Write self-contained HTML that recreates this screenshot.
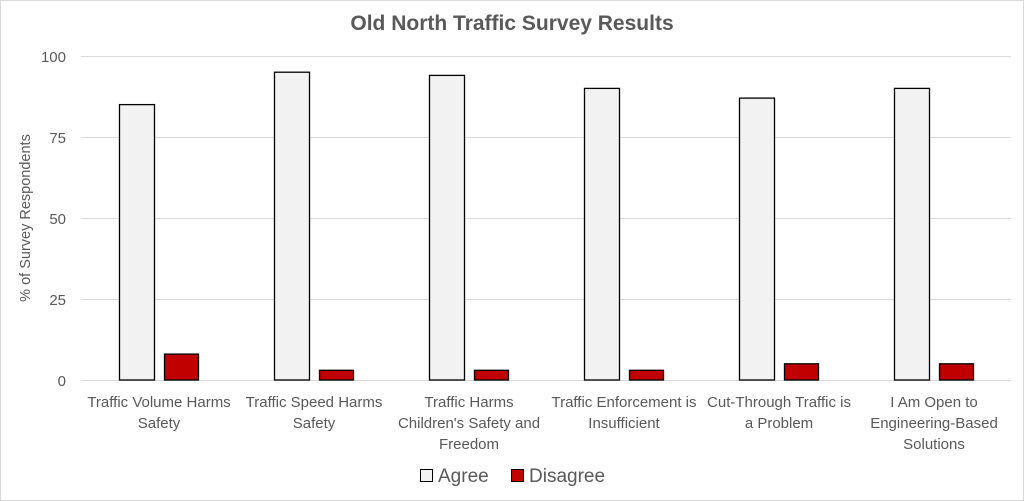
<!DOCTYPE html>
<html><head><style>
body{margin:0;background:#fff}
svg{display:block;font-family:"Liberation Sans",sans-serif}
</style></head><body>
<svg width="1024" height="501" viewBox="0 0 1024 501">
<rect x="0.5" y="0.5" width="1023" height="500" fill="#fff" stroke="#d9d9d9"/>
<text x="512" y="30" text-anchor="middle" font-size="21" font-weight="bold" fill="#595959">Old North Traffic Survey Results</text>
<g stroke="#d9d9d9" stroke-width="1">
<line x1="81" x2="1011" y1="56.5" y2="56.5"/>
<line x1="81" x2="1011" y1="137.5" y2="137.5"/>
<line x1="81" x2="1011" y1="218.5" y2="218.5"/>
<line x1="81" x2="1011" y1="299.5" y2="299.5"/>
<line x1="81" x2="1011" y1="380.5" y2="380.5"/>
</g>
<g font-size="15" fill="#595959" text-anchor="end">
<text x="66" y="62">100</text><text x="66" y="143">75</text><text x="66" y="224">50</text><text x="66" y="305">25</text><text x="66" y="386">0</text>
</g>
<text transform="translate(30,218) rotate(-90)" text-anchor="middle" font-size="14.5" fill="#595959">% of Survey Respondents</text>
<g stroke="#000" stroke-width="1.3">
<rect x="119.5" y="104.6" width="35" height="275.4" fill="#f2f2f2"/>
<rect x="164.5" y="354.1" width="34" height="25.9" fill="#c00000"/>
<rect x="274.5" y="72.2" width="35" height="307.8" fill="#f2f2f2"/>
<rect x="319.5" y="370.3" width="34" height="9.7" fill="#c00000"/>
<rect x="429.5" y="75.4" width="35" height="304.6" fill="#f2f2f2"/>
<rect x="474.5" y="370.3" width="34" height="9.7" fill="#c00000"/>
<rect x="584.5" y="88.4" width="35" height="291.6" fill="#f2f2f2"/>
<rect x="629.5" y="370.3" width="34" height="9.7" fill="#c00000"/>
<rect x="739.5" y="98.1" width="35" height="281.9" fill="#f2f2f2"/>
<rect x="784.5" y="363.8" width="34" height="16.2" fill="#c00000"/>
<rect x="894.5" y="88.4" width="35" height="291.6" fill="#f2f2f2"/>
<rect x="939.5" y="363.8" width="34" height="16.2" fill="#c00000"/>
</g>
<g font-size="15" fill="#595959" text-anchor="middle">
<text x="159" y="407">Traffic Volume Harms</text><text x="159" y="428">Safety</text>
<text x="314" y="407">Traffic Speed Harms</text><text x="314" y="428">Safety</text>
<text x="469" y="407">Traffic Harms</text><text x="469" y="428">Children's Safety and</text><text x="469" y="449">Freedom</text>
<text x="624" y="407">Traffic Enforcement is</text><text x="624" y="428">Insufficient</text>
<text x="779" y="407">Cut-Through Traffic is</text><text x="779" y="428">a Problem</text>
<text x="934" y="407">I Am Open to</text><text x="934" y="428">Engineering-Based</text><text x="934" y="449">Solutions</text>
</g>
<rect x="420.5" y="469.5" width="12" height="12" fill="#f2f2f2" stroke="#000"/>
<text x="438" y="482" font-size="19" fill="#595959">Agree</text>
<rect x="511.5" y="469.5" width="12" height="12" fill="#c00000" stroke="#000"/>
<text x="529" y="482" font-size="19" fill="#595959">Disagree</text>
</svg>
</body></html>
